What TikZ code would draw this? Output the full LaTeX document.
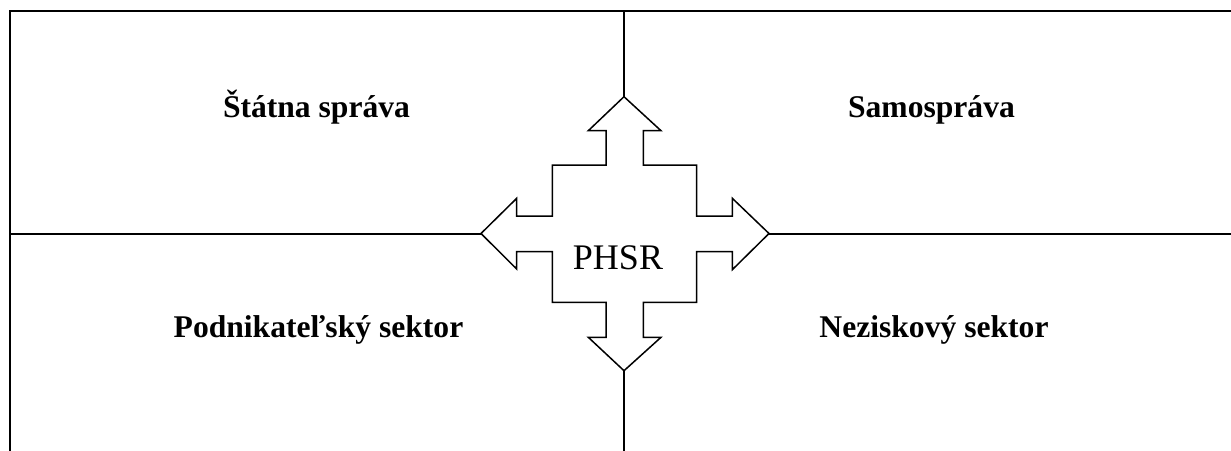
\documentclass[tikz,border=0pt]{standalone}
\usepackage{fontspec}
\setmainfont{Liberation Serif}
\begin{document}
\begin{tikzpicture}[x=1pt,y=-1pt,
  frame/.style={line width=2pt,line cap=rect},
  shapeline/.style={line width=1.5pt,line join=miter},
  sector/.style={anchor=base,inner sep=0pt,font=\fontsize{31.6}{36}\selectfont\bfseries},
  centre/.style={anchor=base,inner sep=0pt,font=\fontsize{36}{40}\selectfont}]
\useasboundingbox (0,0) rectangle (1231,450);
% frame lines
\coordinate (tl) at (10,11);
\coordinate (tr) at (1231,11);
\coordinate (bl) at (10,450);
\coordinate (ml) at (10,233.5);
\coordinate (mr) at (1231,233.5);
\coordinate (topv) at (624,11);
\coordinate (botv) at (624,450);
% arrow tips
\coordinate (tipT) at (624,96.7);
\coordinate (tipB) at (624,370.7);
\coordinate (tipL) at (481,233.5);
\coordinate (tipR) at (769,233.5);
\draw[frame] (bl) -- (tl) -- (tr);
\draw[frame] (ml) -- (tipL);
\draw[frame] (tipR) -- (mr);
\draw[frame] (topv) -- (tipT);
\draw[frame] (tipB) -- (botv);
% four-way arrow
\draw[shapeline] (tipT) -- (661,130.7) -- (643.3,130.7) -- (643.3,165) -- (696.7,165) -- (696.7,216) -- (732.3,216) -- (732.3,198.3) -- (tipR) -- (732.3,269.7) -- (732.3,251.7) -- (696.7,251.7) -- (696.7,302.3) -- (643.3,302.3) -- (643.3,337.3) -- (661,337.3) -- (tipB) -- (588.3,337.3) -- (606,337.3) -- (606,302.3) -- (552.3,302.3) -- (552.3,251.7) -- (516.7,251.7) -- (516.7,269) -- (tipL) -- (516.7,198.3) -- (516.7,216) -- (552.3,216) -- (552.3,165) -- (606,165) -- (606,130.7) -- (588.3,130.7) -- cycle;
% labels
\node[sector] (statna) at (316.5,117) {Štátna správa};
\node[sector] (samo) at (931.5,117) {Samospráva};
\node[sector] (podn) at (318.5,337) {Podnikateľský sektor};
\node[sector] (nezi) at (934,337) {Neziskový sektor};
\node[centre] (phsr) at (618,269) {PHSR};
\end{tikzpicture}
\end{document}
